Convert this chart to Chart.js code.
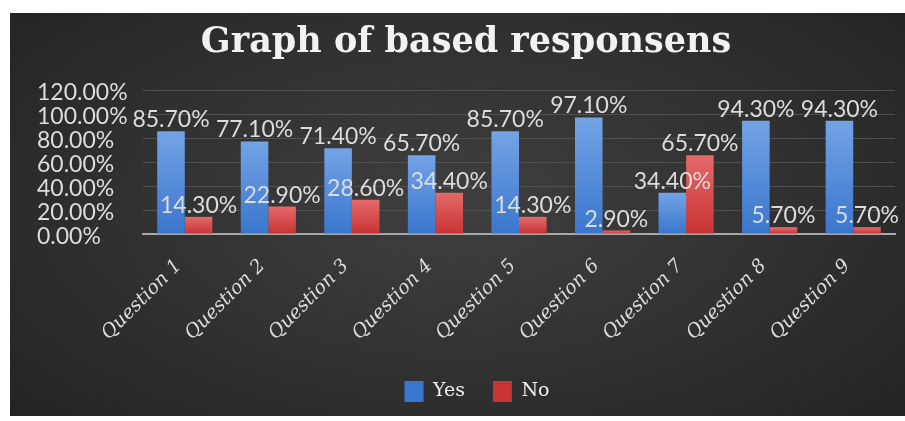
<!DOCTYPE html>
<html>
<head>
<meta charset="utf-8">
<script src="https://cdn.jsdelivr.net/npm/chart.js@4.4.1/dist/chart.umd.min.js"></script>
<style>
    html, body { margin: 0; padding: 0; background: #ffffff; }
    body { width: 905px; height: 421px; position: relative; overflow: hidden; }
    #panel {
        position: absolute; left: 10px; top: 13px; width: 895px; height: 403px;
        background: radial-gradient(ellipse 70% 80% at 50% 48%, #3f3f3f 0%, #303030 55%, #222222 100%);
    }
</style>
</head>
<body>
<div id="panel"><canvas id="responseChart"></canvas></div>
<script>
// --- Chart data ---
const questions = ["Question 1", "Question 2", "Question 3", "Question 4", "Question 5",
    "Question 6", "Question 7", "Question 8", "Question 9"];
const yesValues = [85.7, 77.1, 71.4, 65.7, 85.7, 97.1, 34.4, 94.3, 94.3];
const noValues = [14.3, 22.9, 28.6, 34.4, 14.3, 2.9, 65.7, 5.7, 5.7];
const yTicks = [0, 20, 40, 60, 80, 100, 120];

const labelFont = "Lato";
const serifFont = "DejaVu Serif";

// vertical gradient on each bar, lighter at the top
function barFill(topColor, bottomColor) {
    return (context) => {
        const chart = context.chart;
        if (context.dataIndex === undefined || !chart.chartArea || !chart.scales.y) {
            return bottomColor;
        }
        const value = context.dataset.data[context.dataIndex];
        const yTop = chart.scales.y.getPixelForValue(value);
        const yBase = chart.scales.y.getPixelForValue(0);
        if (!isFinite(yTop) || !isFinite(yBase) || yTop >= yBase) {
            return bottomColor;
        }
        const gradient = chart.ctx.createLinearGradient(0, yTop, 0, yBase);
        gradient.addColorStop(0, topColor);
        gradient.addColorStop(1, bottomColor);
        return gradient;
    };
}

// value labels above every bar
const valueLabels = {
    id: "valueLabels",
    afterDatasetsDraw(chart) {
        const ctx = chart.ctx;
        ctx.save();
        ctx.font = "23px " + labelFont;
        ctx.fillStyle = "#dcdcdc";
        ctx.textAlign = "center";
        ctx.textBaseline = "alphabetic";
        chart.data.datasets.forEach((dataset, i) => {
            chart.getDatasetMeta(i).data.forEach((bar, j) => {
                ctx.fillText(dataset.data[j].toFixed(2) + "%", bar.x, bar.y - 4);
            });
        });
        ctx.restore();
    }
};

// the legend sits a little right of the page centre in the original
const legendShift = {
    id: "legendShift",
    afterLayout(chart) {
        if (chart.legend) {
            chart.legend.left += 11;
            chart.legend.right += 11;
        }
    }
};

new Chart(document.getElementById("responseChart"), {
    type: "bar",
    data: {
        labels: questions,
        datasets: [{
            label: "Yes",
            data: yesValues,
            backgroundColor: barFill("#74a3e6", "#3a76cc"),
            barPercentage: 1.0,
            categoryPercentage: 0.66
        }, {
            label: "No",
            data: noValues,
            backgroundColor: barFill("#e46a6a", "#c83333"),
            barPercentage: 1.0,
            categoryPercentage: 0.66
        }]
    },
    options: {
        responsive: true,
        maintainAspectRatio: false,
        animation: false,
        layout: { padding: { left: 27, right: 10, top: 0, bottom: 4 } },
        plugins: {
            title: {
                display: true,
                text: "Graph of based responsens",
                color: "#f2f2f2",
                font: { family: serifFont, weight: "bold", size: 35 },
                padding: { top: 9, bottom: 26 }
            },
            legend: {
                position: "bottom",
                labels: {
                    color: "#f0f0f0",
                    boxWidth: 19,
                    boxHeight: 21,
                    padding: 28,
                    font: { family: serifFont, size: 19 }
                }
            },
            tooltip: { enabled: false }
        },
        scales: {
            x: {
                grid: { display: false },
                border: { color: "#a8a8a8", width: 2 },
                ticks: {
                    color: "#dcdcdc",
                    autoSkip: false,
                    maxRotation: 45,
                    minRotation: 45,
                    padding: 13,
                    labelOffset: -6,
                    font: { family: serifFont, style: "italic", size: 19 }
                },
                afterFit(scale) { scale.height = 119; }
            },
            y: {
                min: 0,
                max: 120,
                border: { display: false },
                grid: { color: "#505050", lineWidth: 1, drawTicks: false },
                afterBuildTicks(scale) { scale.ticks = yTicks.map(v => ({ value: v })); },
                ticks: {
                    color: "#dcdcdc",
                    autoSkip: false,
                    crossAlign: "far",
                    labelOffset: 3,
                    font: { family: labelFont, size: 23 },
                    callback: (value) => value.toFixed(2) + "%"
                },
                afterFit(scale) { scale.width = 106; }
            }
        }
    },
    plugins: [valueLabels, legendShift]
});
</script>
</body>
</html>
